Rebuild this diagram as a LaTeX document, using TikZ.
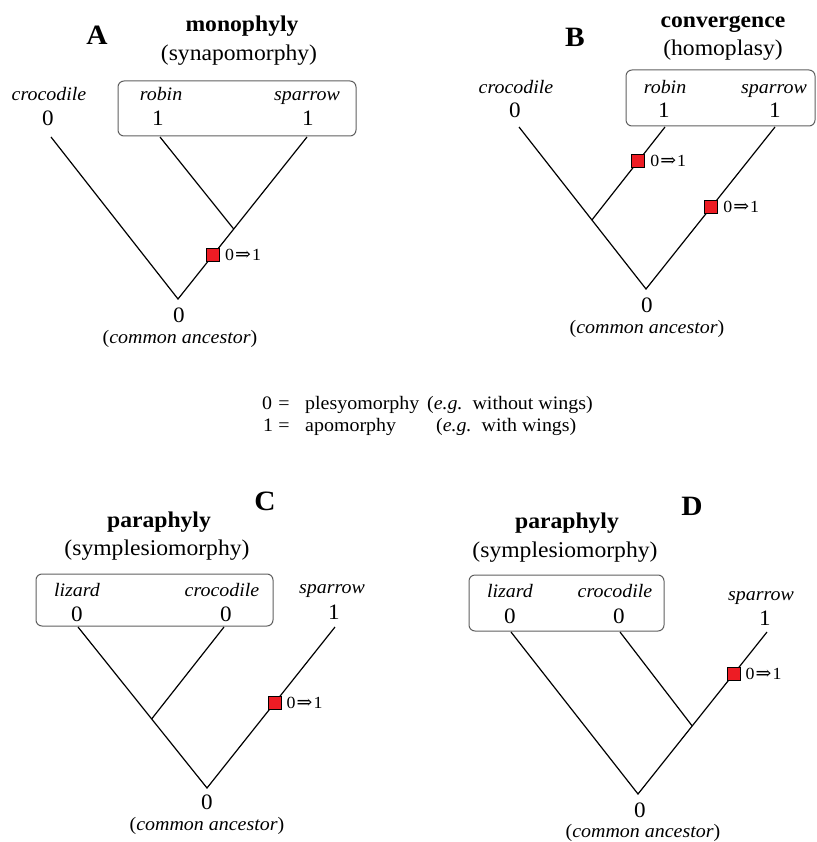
\documentclass[tikz,border=0pt]{standalone}
\usepackage{fontspec}
\setmainfont{Liberation Serif}
\newfontfamily\arrfont{DejaVu Serif}
\usetikzlibrary{calc}
\newcommand{\hs}[1]{\scalebox{1.05}[1]{#1}}
\newcommand{\fsz}[1]{\fontsize{#1}{#1}\selectfont}
\newcommand{\chgtext}{\hs{0{\arrfont\fontsize{18}{18}\selectfont\kern1pt⇒\kern1pt}1}}
\definecolor{sqred}{RGB}{237,28,36}
\definecolor{boxgray}{RGB}{95,95,95}
\begin{document}
\begin{tikzpicture}[x=1pt,y=-1pt,
  txt/.style={inner sep=0pt, anchor=base},
  letter/.style={txt, font=\fsz{28}\bfseries},
  ttl/.style={txt, font=\fsz{22.5}\bfseries},
  sub/.style={txt, font=\fsz{22.5}},
  taxon/.style={txt, font=\fsz{19}\itshape},
  state/.style={txt, font=\fsz{22}},
  anc/.style={txt, font=\fsz{19}},
  chg/.style={inner sep=0pt, anchor=west, font=\fsz{17}},
  sq/.style={draw=black, line width=0.8pt, fill=sqred, minimum size=13pt, inner sep=0pt},
  grp/.style={draw=boxgray, line width=1pt, rounded corners=6pt},
  branch/.style={line width=1.2pt},
  leg/.style={txt, font=\fsz{19}}]
\useasboundingbox (0,0) rectangle (816,842);

% ---------------- Panel A ----------------
\node[letter] (Alet) at (97,45) {\hs{A}};
\node[ttl] (Attl) at (242,32) {\hs{monophyly}};
\node[sub] (Asub) at (239,61) {\hs{(synapomorphy)}};
\draw[grp] (118,81) rectangle (356,136);
\node[taxon] (Acl) at (49,101) {\hs{crocodile}};
\node[state] (Acs) at (48,126) {\hs{0}};
\node[taxon] (Arl) at (161,101) {\hs{robin}};
\node[state] (Ars) at (158,126) {\hs{1}};
\node[taxon] (Asl) at (307,101) {\hs{sparrow}};
\node[state] (Ass) at (308,126) {\hs{1}};
\coordinate (Act) at (51,137);
\coordinate (Art) at (160,137);
\coordinate (Ast) at (307,137);
\coordinate (Aroot) at (178,299);
\coordinate (Aj) at ($(Ast)!0.568!(Aroot)$);
\draw[branch] (Act) -- (Aroot) -- (Ast);
\draw[branch] (Art) -- (Aj);
\node[sq] (Asq) at ($(Ast)!0.728!(Aroot)$) {};
\node[chg] (Achg) at ([xshift=5pt]Asq.east) {\chgtext};
\node[state] (Ar0) at (179,322) {\hs{0}};
\node[anc] (Aanc) at (180,343) {\hs{(\textit{common ancestor})}};

% ---------------- Panel B ----------------
\node[letter] (Blet) at (575,47) {\hs{B}};
\node[ttl] (Bttl) at (723,28) {\hs{convergence}};
\node[sub] (Bsub) at (723,56) {\hs{(homoplasy)}};
\draw[grp] (626,70) rectangle (815,126);
\node[taxon] (Bcl) at (516,94) {\hs{crocodile}};
\node[state] (Bcs) at (515,118) {\hs{0}};
\node[taxon] (Brl) at (665,94) {\hs{robin}};
\node[state] (Brs) at (664,118) {\hs{1}};
\node[taxon] (Bsl) at (774,94) {\hs{sparrow}};
\node[state] (Bss) at (775,118) {\hs{1}};
\coordinate (Bct) at (519,127);
\coordinate (Brt) at (665,127);
\coordinate (Bst) at (775,127);
\coordinate (Broot) at (646,289);
\coordinate (Bj) at ($(Bct)!0.574!(Broot)$);
\draw[branch] (Bct) -- (Broot) -- (Bst);
\draw[branch] (Brt) -- (Bj);
\node[sq] (Bsq1) at ($(Brt)!0.366!(Bj)$) {};
\node[chg] (Bchg1) at ([xshift=5pt]Bsq1.east) {\chgtext};
\node[sq] (Bsq2) at ($(Bst)!0.494!(Broot)$) {};
\node[chg] (Bchg2) at ([xshift=5pt]Bsq2.east) {\chgtext};
\node[state] (Br0) at (647,312) {\hs{0}};
\node[anc] (Banc) at (647,333) {\hs{(\textit{common ancestor})}};

% ---------------- Legend ----------------
\node[leg, anchor=base west] (L0) at (262,409) {\hs{0}};
\node[leg] (Leq0) at (284,409) {\hs{=}};
\node[leg, anchor=base west] (Lp) at (305,409) {\hs{plesyomorphy}};
\node[leg, anchor=base east] (Lpe) at (593,409) {\hs{(\textit{e.g.}\ \ without wings)}};
\node[leg, anchor=base west] (L1) at (263,431) {\hs{1}};
\node[leg] (Leq1) at (284,431) {\hs{=}};
\node[leg, anchor=base west] (La) at (305,431) {\hs{apomorphy}};
\node[leg, anchor=base west] (Lae) at (436,431) {\hs{(\textit{e.g.}\ \ with wings)}};

% ---------------- Panel C ----------------
\node[letter] (Clet) at (265,510) {\hs{C}};
\node[ttl] (Cttl) at (159,527) {\hs{paraphyly}};
\node[sub] (Csub) at (157,555) {\hs{(symplesiomorphy)}};
\draw[grp] (36,574) rectangle (273,626);
\node[taxon] (Cll) at (77,596) {\hs{lizard}};
\node[state] (Cls) at (77,621) {\hs{0}};
\node[taxon] (Ccl) at (222,596) {\hs{crocodile}};
\node[state] (Ccs) at (226,621) {\hs{0}};
\node[taxon] (Csl) at (332,593) {\hs{sparrow}};
\node[state] (Css) at (334,619) {\hs{1}};
\coordinate (Clt) at (78,627);
\coordinate (Cct) at (224,627);
\coordinate (Cst) at (335,627);
\coordinate (Croot) at (207,788);
\coordinate (Cj) at ($(Clt)!0.571!(Croot)$);
\draw[branch] (Clt) -- (Croot) -- (Cst);
\draw[branch] (Cct) -- (Cj);
\node[sq] (Csq) at ($(Cst)!0.472!(Croot)$) {};
\node[chg] (Cchg) at ([xshift=5pt]Csq.east) {\chgtext};
\node[state] (Cr0) at (207,809) {\hs{0}};
\node[anc] (Canc) at (207,830) {\hs{(\textit{common ancestor})}};

% ---------------- Panel D ----------------
\node[letter] (Dlet) at (692,515) {\hs{D}};
\node[ttl] (Dttl) at (567,528) {\hs{paraphyly}};
\node[sub] (Dsub) at (565,557) {\hs{(symplesiomorphy)}};
\draw[grp] (469,575) rectangle (664,631);
\node[taxon] (Dll) at (510,597) {\hs{lizard}};
\node[state] (Dls) at (510,623) {\hs{0}};
\node[taxon] (Dcl) at (615,597) {\hs{crocodile}};
\node[state] (Dcs) at (619,623) {\hs{0}};
\node[taxon] (Dsl) at (761,600) {\hs{sparrow}};
\node[state] (Dss) at (765,625) {\hs{1}};
\coordinate (Dlt) at (511,632);
\coordinate (Dct) at (620,632);
\coordinate (Dst) at (767,632);
\coordinate (Droot) at (638,794);
\coordinate (Dj) at ($(Dst)!0.58!(Droot)$);
\draw[branch] (Dlt) -- (Droot) -- (Dst);
\draw[branch] (Dct) -- (Dj);
\node[sq] (Dsq) at ($(Dst)!0.259!(Droot)$) {};
\node[chg] (Dchg) at ([xshift=5pt]Dsq.east) {\chgtext};
\node[state] (Dr0) at (640,817) {\hs{0}};
\node[anc] (Danc) at (643,837) {\hs{(\textit{common ancestor})}};
\end{tikzpicture}
\end{document}
